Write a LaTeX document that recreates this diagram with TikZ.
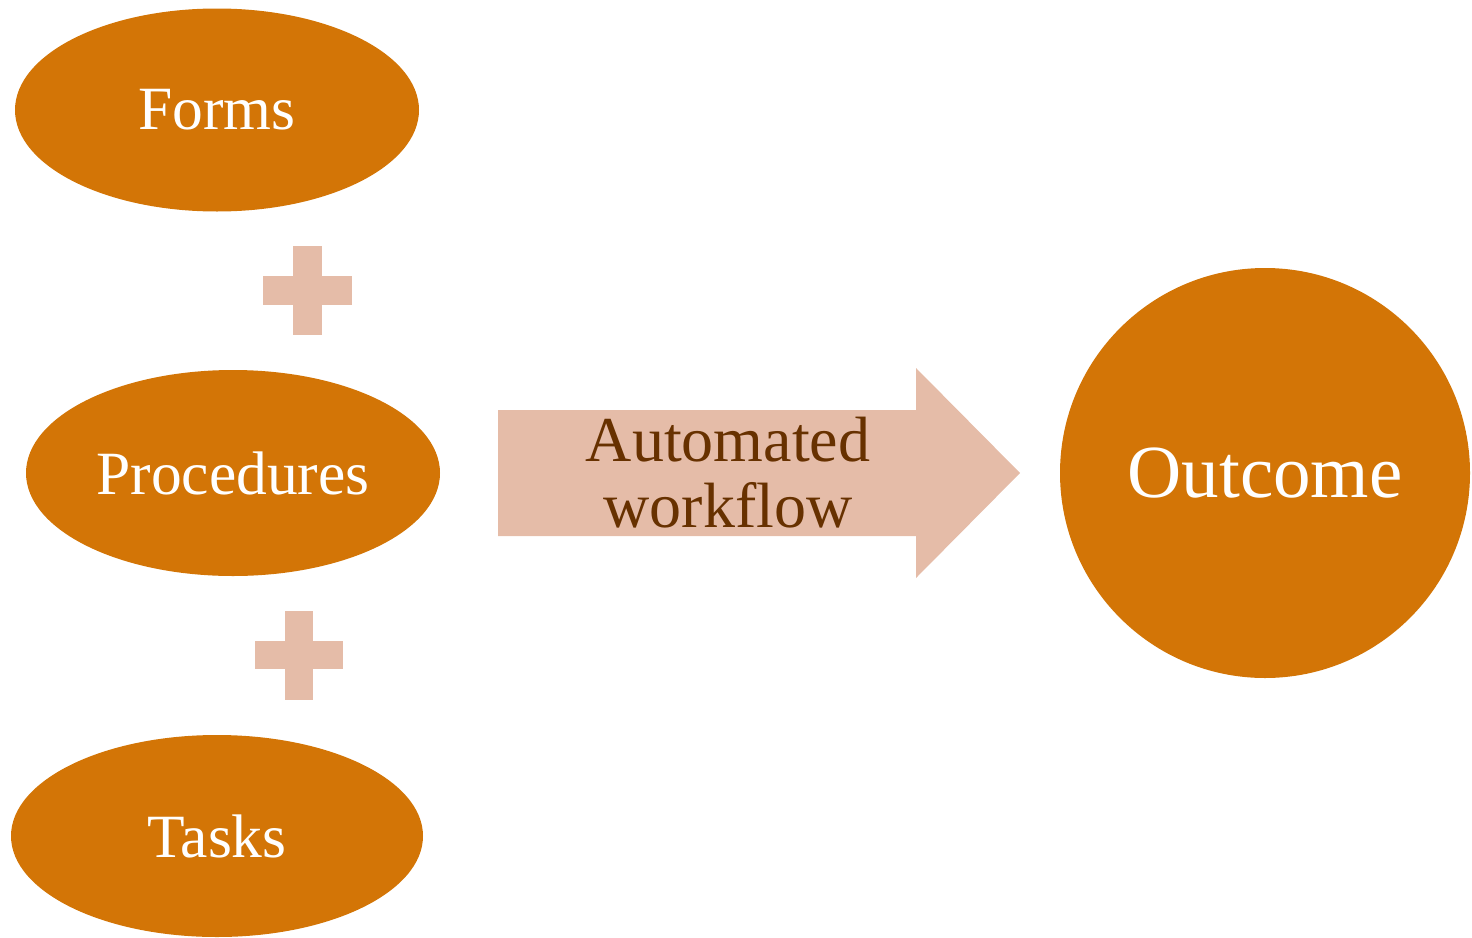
\documentclass[tikz,border=0pt]{standalone}
\usepackage{fontspec}
\setmainfont{Liberation Serif}
\usetikzlibrary{shapes.geometric}
\definecolor{orangefill}{HTML}{D37506}
\definecolor{pinkfill}{HTML}{E5BCA8}
\definecolor{browntext}{HTML}{673100}
\tikzset{
  blob/.style={ellipse, fill=orangefill, draw=none, inner sep=0pt, text=white,
    font=\fontsize{61.5}{68}\selectfont},
  plusbar/.style={fill=pinkfill, draw=none},
}
\begin{document}
\begin{tikzpicture}[x=1pt,y=-1pt]
\useasboundingbox (0,0) rectangle (1472,937);
\node[blob, minimum width=404pt, minimum height=203pt] (forms) at (217,110) {Forms};
\node[blob, minimum width=414pt, minimum height=206pt] (proc) at (233,473) {Procedures};
\node[blob, minimum width=412pt, minimum height=202pt] (tasks) at (217,836) {Tasks};
\node[circle, fill=orangefill, inner sep=0pt, minimum size=410pt, text=white,
  font=\fontsize{75}{80}\selectfont] (out) at (1265,473) {Outcome};
% plus signs
\fill[plusbar] (293,246) rectangle (322,335);
\fill[plusbar] (263,276) rectangle (352,305);
\fill[plusbar] (285,611) rectangle (313,700);
\fill[plusbar] (255,641) rectangle (343,669);
% arrow
\fill[pinkfill] (498,410) -- (916,410) -- (916,368) -- (1020,473) -- (916,578) -- (916,536) -- (498,536) -- cycle;
\node[text=browntext, align=center, font=\fontsize{64}{66}\selectfont, inner sep=0pt] (auto) at (728,473) {Automated\\workflow};
\end{tikzpicture}
\end{document}
